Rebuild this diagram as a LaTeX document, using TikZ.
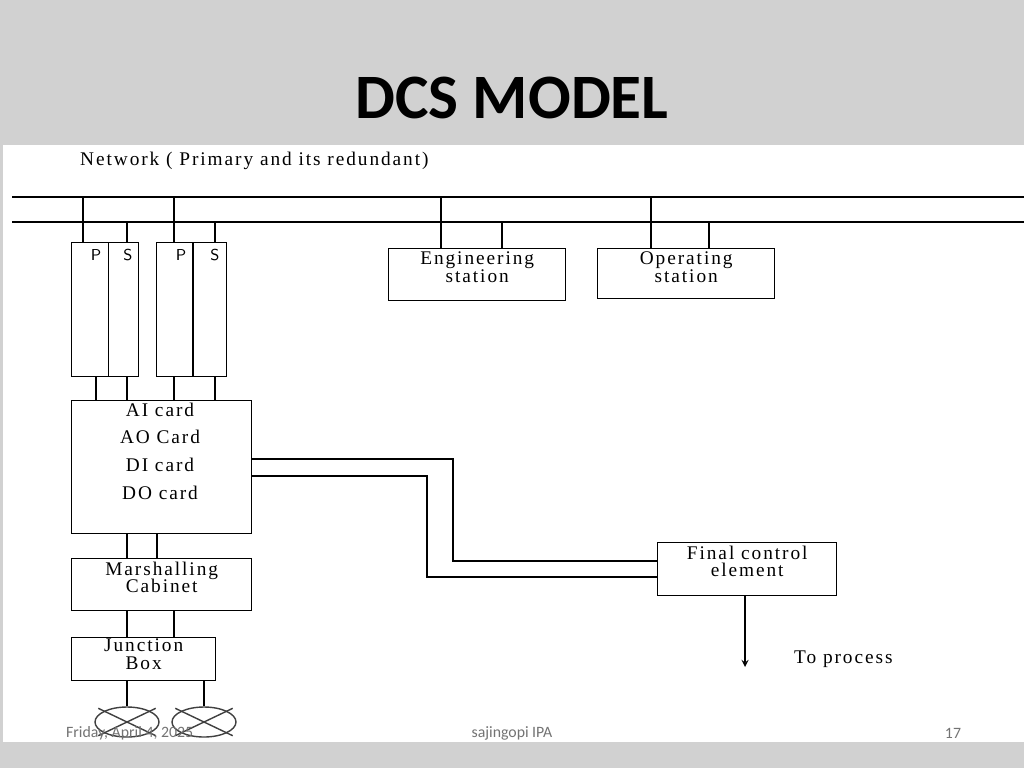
\documentclass[tikz,border=0pt]{standalone}
\usepackage{fontspec}
\setmainfont{Liberation Serif}
\newfontfamily\diagfont[LetterSpace=10]{Liberation Serif}
\newfontfamily\slidefont{Carlito}
\usetikzlibrary{positioning,calc,shapes.misc,shapes.geometric}
\newlength\px \setlength\px{0.02cm}
\begin{document}
\begin{tikzpicture}[x=0.02cm,y=-0.02cm]
  \tikzset{blk/.style={draw,thick,inner sep=0pt,anchor=north west,align=center},
           lbl/.style={font=\diagfont\fontsize{11}{13}\selectfont},
           wire/.style={thick},
           lamp/.style={draw,thick,black!75,minimum width=56\px,minimum height=26\px,inner sep=0pt},
           foot/.style={font=\slidefont\fontsize{9}{11}\selectfont,text=black!55}}
  % frame
  \useasboundingbox (0,0) rectangle (1024,768);
  \fill[black!18] (0,0) rectangle (1024,768);
  \fill[white] (3,145) rectangle (1024,742);
  \node[font=\slidefont\bfseries\fontsize{36}{40}\selectfont] (title) at (512,98) {DCS MODEL};
  % network
  \node[lbl,anchor=west] (net) at (74,161) {Network ( Primary and its redundant)};
  \coordinate (busA) at (12,197); \coordinate (busAe) at (1024,197);
  \coordinate (busB) at (12,222); \coordinate (busBe) at (1024,222);
  \draw[wire] (busA) -- (busAe);
  \draw[wire] (busB) -- (busBe);
  % processors
  \node[blk,minimum width=37\px,minimum height=134\px] (p1) at (71,242) {};
  \node[blk,minimum width=30\px,minimum height=134\px] (s1) at (108,242) {};
  \node[blk,minimum width=37\px,minimum height=134\px] (p2) at (156,242) {};
  \node[blk,minimum width=33\px,minimum height=134\px] (s2) at (193,242) {};
  \draw[line width=1.6pt] (s2.north west) -- (s2.south west);
  \node[font=\sffamily\small] (p1l) at (96,255) {P};
  \node[font=\sffamily\small] (s1l) at (128,255) {S};
  \node[font=\sffamily\small] (p2l) at (181,255) {P};
  \node[font=\sffamily\small] (s2l) at (215,255) {S};
  \draw[wire] (busA -| 83,0) -- (p1.north -| 83,0);
  \draw[wire] (busB -| 127,0) -- (s1.north -| 127,0);
  \draw[wire] (busA -| 174,0) -- (p2.north -| 174,0);
  \draw[wire] (busB -| 215,0) -- (s2.north -| 215,0);
  % stations
  \node[blk,minimum width=177\px,minimum height=52\px] (eng) at (388,248) {};
  \node[lbl,anchor=north,align=center,inner sep=2pt] (engt) at (eng.north) {Engineering\\[-3pt]station};
  \node[blk,minimum width=177\px,minimum height=50\px] (ops) at (597,248) {};
  \node[lbl,anchor=north,align=center,inner sep=2pt] (opst) at (ops.north) {Operating\\[-3pt]station};
  \draw[wire] (busA -| 441,0) -- (eng.north -| 441,0);
  \draw[wire] (busB -| 502,0) -- (eng.north -| 502,0);
  \draw[wire] (busA -| 651,0) -- (ops.north -| 651,0);
  \draw[wire] (busB -| 709,0) -- (ops.north -| 709,0);
  % IO cards
  \node[blk,minimum width=180\px,minimum height=133\px] (io) at (71,400) {};
  \node[lbl] (ai) at (160,410) {AI card};
  \node[lbl] (ao) at (160,437) {AO Card};
  \node[lbl] (di) at (160,465) {DI card};
  \node[lbl] (do) at (160,493) {DO card};
  \foreach \x/\b in {96/p1,127/s1,174/p2,215/s2}
    \draw[wire] (\b.south -| \x,0) -- (io.north -| \x,0);
  % final control element
  \node[blk,minimum width=179\px,minimum height=53\px] (fce) at (657,542) {};
  \node[lbl,anchor=north,align=center,inner sep=2pt] (fcet) at (fce.north) {Final control\\[-3pt]element};
  \draw[wire] (io.east |- 0,459) -- (453,459) -- (453,561) -- (fce.west |- 0,561);
  \draw[wire] (io.east |- 0,476) -- (427,476) -- (427,577) -- (fce.west |- 0,577);
  \coordinate (proc) at (745,667);
  \draw[wire,-stealth] (fce.south -| proc) -- (proc);
  \node[lbl,anchor=west] (proct) at (788,659) {To process};
  % field side
  \node[blk,minimum width=180\px,minimum height=52\px] (mc) at (71,558) {};
  \node[lbl,anchor=north,align=center,inner sep=2pt] (mct) at (mc.north) {Marshalling\\[-3pt]Cabinet};
  \node[blk,minimum width=144\px,minimum height=43\px] (jb) at (71,637) {};
  \node[lbl,anchor=north,align=center,inner sep=1pt] (jbt) at (jb.north) {Junction\\[-3pt]Box};
  \draw[wire] (io.south -| 127,0) -- (mc.north -| 127,0);
  \draw[wire] (io.south -| 157,0) -- (mc.north -| 157,0);
  \draw[wire] (mc.south -| 127,0) -- (jb.north -| 127,0);
  \draw[wire] (mc.south -| 174,0) -- (jb.north -| 174,0);
  \node[lamp,ellipse,minimum width=64\px,minimum height=30\px] (l1) at (127,722) {};
  \node[lamp,cross out] (l1x) at (l1) {};
  \node[lamp,ellipse,minimum width=64\px,minimum height=30\px] (l2) at (204,722) {};
  \node[lamp,cross out] (l2x) at (l2) {};
  \draw[wire] (jb.south -| l1) -- (l1.north);
  \draw[wire] (jb.south -| l2) -- (l2.north);
  % footer
  \node[foot,anchor=west] (date) at (60,733) {Friday, April 4, 2025};
  \node[foot] (auth) at (512,733) {sajingopi IPA};
  \node[foot] (pg) at (953,733) {17};
\end{tikzpicture}
\end{document}
